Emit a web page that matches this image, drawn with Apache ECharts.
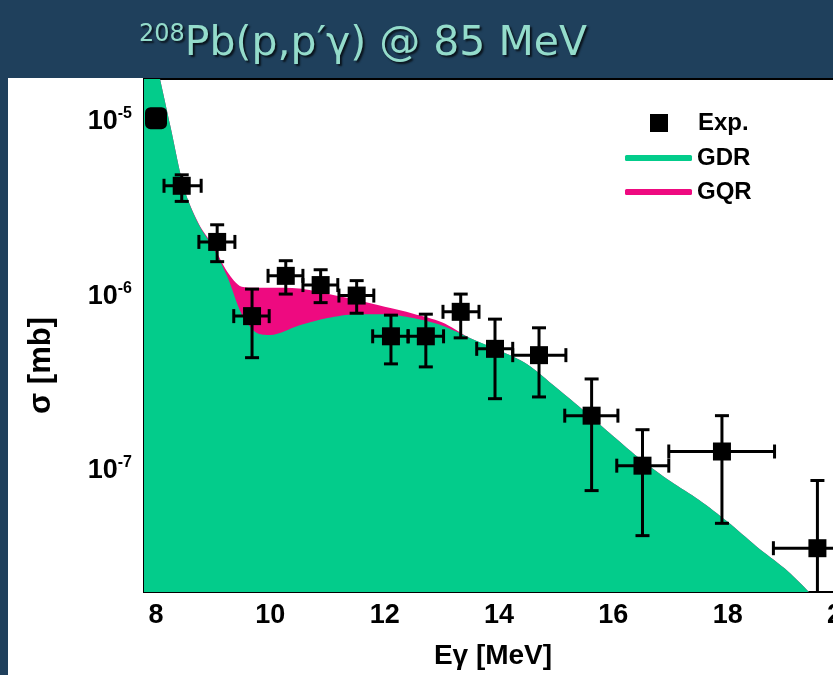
<!DOCTYPE html>
<html>
<head>
<meta charset="utf-8">
<title>208Pb(p,p'γ) @ 85 MeV</title>
<script src="https://cdn.jsdelivr.net/npm/echarts@6/dist/echarts.min.js"></script>
<style>
  html, body { margin: 0; padding: 0; background: #1f405c; }
  #chart { width: 833px; height: 675px; }
</style>
</head>
<body>
<div id="chart"></div>
<script>
// model curves (sigma in mb)
var energy = [7.7, 8.0, 8.25, 8.5, 8.75, 9.0, 9.25, 9.5, 9.75, 10.0, 10.5, 11.0, 11.5, 12.0, 12.5, 13.0, 13.5,
  14.0, 14.5, 15.0, 15.5, 16.0, 16.5, 17.0, 17.5, 18.0, 18.5, 19.0, 19.5, 20.0];
var gdr = [6.2e-5, 2.24e-5, 9.5e-6, 4.07e-6, 2.57e-6, 1.9e-6, 1.29e-6, 7.9e-7, 6.2e-7, 6.0e-7, 6.8e-7, 7.5e-7,
  7.9e-7, 7.9e-7, 7.5e-7, 6.8e-7, 5.75e-7, 4.9e-7, 4.07e-7, 3.0e-7, 2.19e-7, 1.58e-7, 1.15e-7, 8.7e-8, 6.8e-8,
  5.1e-8, 3.7e-8, 2.75e-8, 1.9e-8, 1.26e-8];
// GQR contribution on top of GDR
var gqr = [0, 0, 0, 0, 3e-8, 5e-8, 9e-8, 3.45e-7, 5.0e-7, 5.2e-7, 4.3e-7, 2.85e-7, 1.65e-7, 8e-8, 4.5e-8, 3e-8, 0,
  0, 0, 0, 0, 0, 0, 0, 0, 0, 0, 0, 0, 0];

// experimental points with error bars
var expE = [8.0, 8.45, 9.07, 9.68, 10.27, 10.88, 11.51, 12.11, 12.72, 13.33, 13.93, 14.70, 15.62, 16.51, 17.90, 19.57];
var expSigma = [1.05e-5, 4.3e-6, 2.05e-6, 7.7e-7, 1.31e-6, 1.16e-6, 1.01e-6, 5.9e-7, 5.9e-7, 8.15e-7, 5.0e-7,
  4.6e-7, 2.07e-7, 1.07e-7, 1.29e-7, 3.6e-8];
var expELow = [8.0, 8.14, 8.75, 9.36, 9.96, 10.57, 11.20, 11.79, 12.41, 13.02, 13.61, 14.24, 15.15, 16.06, 16.97, 18.80];
var expEHigh = [8.0, 8.79, 9.38, 9.98, 10.57, 11.18, 11.81, 12.41, 13.03, 13.65, 14.24, 15.17, 16.08, 16.97, 18.82, 20.34];
var expSigmaLow = [1.05e-5, 3.5e-6, 1.58e-6, 4.45e-7, 1.03e-6, 9.2e-7, 8.0e-7, 4.1e-7, 3.94e-7, 5.78e-7, 2.59e-7,
  2.65e-7, 7.7e-8, 4.25e-8, 5.0e-8, 1.0e-8];
var expSigmaHigh = [1.05e-5, 4.97e-6, 2.57e-6, 1.10e-6, 1.60e-6, 1.42e-6, 1.23e-6, 7.8e-7, 7.9e-7, 1.03e-6, 7.4e-7,
  6.6e-7, 3.36e-7, 1.72e-7, 2.07e-7, 8.8e-8];

// ticks
var xMajor = [8, 10, 12, 14, 16, 18, 20];
var xMinor = [9, 11, 13, 15, 17, 19];
var yMajor = [1e-7, 1e-6, 1e-5];
var yMinor = [3e-8, 4e-8, 5e-8, 6e-8, 7e-8, 8e-8, 9e-8,
  2e-7, 3e-7, 4e-7, 5e-7, 6e-7, 7e-7, 8e-7, 9e-7,
  2e-6, 3e-6, 4e-6, 5e-6, 6e-6, 7e-6, 8e-6, 9e-6];

var GREEN = '#03cc8b';
var PINK = '#ee0a80';
var TITLE = '#94dccb';
var FONT = '"Liberation Sans", Arial, sans-serif';

var chart = echarts.init(document.getElementById('chart'));

// pink band is drawn as GDR+GQR, the green GDR area covers it from below
var gdrData = energy.map(function (e, i) { return [e, gdr[i]]; });
var totalData = energy.map(function (e, i) { return [e, gdr[i] + gqr[i]]; });

var expPoints = expE.map(function (e, i) {
  var item = { value: [e, expSigma[i]] };
  if (i === 0) {
    item.symbol = 'roundRect';
    item.symbolSize = 22;
  }
  return item;
});

var errData = expE.map(function (e, i) {
  return [e, expSigma[i], expELow[i], expEHigh[i], expSigmaLow[i], expSigmaHigh[i]];
});

// error bars with caps
function renderErr(params, api) {
  var cs = params.coordSys;
  var x = api.value(0), y = api.value(1);
  var c = api.coord([x, y]);
  var l = api.coord([api.value(2), y]);
  var r = api.coord([api.value(3), y]);
  var lo = api.coord([x, api.value(4)]);
  var hi = api.coord([x, api.value(5)]);
  var cap = 7;
  var style = { stroke: '#000', lineWidth: 3, fill: null };
  var kids = [];
  function seg(x1, y1, x2, y2) {
    kids.push({ type: 'line', shape: { x1: x1, y1: y1, x2: x2, y2: y2 }, style: style });
  }
  if (r[0] - l[0] > 1) {
    seg(l[0], c[1], r[0], c[1]);
    seg(l[0], c[1] - cap, l[0], c[1] + cap);
    seg(r[0], c[1] - cap, r[0], c[1] + cap);
  }
  if (lo[1] - hi[1] > 1) {
    seg(c[0], hi[1], c[0], lo[1]);
    seg(c[0] - cap, hi[1], c[0] + cap, hi[1]);
    seg(c[0] - cap, lo[1], c[0] + cap, lo[1]);
  }
  return {
    type: 'group',
    children: kids,
    clipPath: { type: 'rect', shape: { x: cs.x, y: cs.y, width: cs.width, height: cs.height } }
  };
}

var yAxisBase = {
  type: 'log',
  logBase: 10,
  min: 2.02e-8,
  max: 1.76e-5,
  position: 'left',
  splitLine: { show: false },
  minorTick: { show: false }
};

var titleShadow = {
  textShadowColor: 'rgba(0,0,0,0.7)',
  textShadowOffsetX: 2,
  textShadowOffsetY: 2,
  textShadowBlur: 2
};

var option = {
  backgroundColor: '#1f405c',
  animation: false,
  title: {
    text: '{sup|208}{main|Pb(p,p′γ) @ 85 MeV}',
    left: 134,
    top: 18,
    textStyle: Object.assign({
      color: TITLE,
      fontWeight: 'normal',
      rich: {
        sup: Object.assign({ fontSize: 24, color: TITLE, fontWeight: 'normal', fontFamily: '"DejaVu Sans"',
          padding: [0, 0, 18, 0] }, titleShadow),
        main: Object.assign({ fontSize: 41, color: TITLE, fontWeight: 'normal', fontFamily: '"DejaVu Sans"' },
          titleShadow)
      }
    }, titleShadow)
  },
  graphic: [{
    type: 'rect',
    left: 8,
    top: 78,
    z: -10,
    shape: { width: 825, height: 597 },
    style: { fill: '#ffffff' }
  }],
  grid: {
    left: 144,
    top: 79,
    width: 698,
    height: 513,
    outerBoundsMode: 'none',
    show: true,
    backgroundColor: '#ffffff',
    borderColor: '#000',
    borderWidth: 2
  },
  legend: [{
    data: ['Exp.'],
    left: 650,
    top: 111,
    padding: 0,
    icon: 'rect',
    itemWidth: 18,
    itemHeight: 18,
    selectedMode: false,
    itemStyle: { color: '#000', opacity: 1 },
    textStyle: { fontFamily: FONT, fontWeight: 'bold', fontSize: 24, color: '#000', padding: [0, 0, 0, 25] }
  }, {
    data: ['GDR', 'GQR'],
    orient: 'vertical',
    left: 625,
    top: 144,
    padding: 0,
    itemGap: 6,
    icon: 'roundRect',
    itemWidth: 67,
    itemHeight: 6,
    selectedMode: false,
    textStyle: { fontFamily: FONT, fontWeight: 'bold', fontSize: 24, color: '#000', lineHeight: 28 }
  }],
  xAxis: [{
    type: 'value',
    min: 7.79,
    max: 20,
    position: 'bottom',
    name: 'Eγ [MeV]',
    nameLocation: 'middle',
    nameGap: 50,
    nameTextStyle: { fontFamily: FONT, fontWeight: 'bold', fontSize: 28, color: '#000' },
    axisLine: { lineStyle: { color: '#000', width: 2 } },
    axisTick: { inside: true, length: 10, lineStyle: { color: '#000', width: 2 }, customValues: xMajor },
    axisLabel: { customValues: xMajor, margin: 10, fontFamily: FONT, fontWeight: 'bold', fontSize: 27, color: '#000' },
    splitLine: { show: false }
  }, {
    type: 'value',
    min: 7.79,
    max: 20,
    position: 'bottom',
    axisLine: { show: false },
    axisTick: { inside: true, length: 6, lineStyle: { color: '#000', width: 2 }, customValues: xMinor },
    axisLabel: { show: false },
    splitLine: { show: false }
  }],
  yAxis: [Object.assign({}, yAxisBase, {
    name: 'σ [mb]',
    nameLocation: 'middle',
    nameRotate: 90,
    nameGap: 87,
    nameTextStyle: { fontFamily: FONT, fontWeight: 'bold', fontSize: 31, color: '#000', padding: [0, 60, 0, 0] },
    axisLine: { show: true, lineStyle: { color: '#000', width: 2 } },
    axisTick: { inside: true, length: 11, lineStyle: { color: '#000', width: 2 }, customValues: yMajor },
    axisLabel: {
      customValues: yMajor,
      margin: 12,
      color: '#000',
      formatter: function (v) {
        return '{b|10}{s|' + Math.round(Math.log10(v)) + '}';
      },
      rich: {
        b: { fontFamily: FONT, fontWeight: 'bold', fontSize: 27, color: '#000' },
        s: { fontFamily: FONT, fontWeight: 'bold', fontSize: 16, color: '#000', padding: [0, 0, 16, 0] }
      }
    }
  }), Object.assign({}, yAxisBase, {
    axisLine: { show: false },
    axisTick: { inside: true, length: 7, lineStyle: { color: '#000', width: 2 }, customValues: yMinor },
    axisLabel: { show: false }
  })],
  series: [{
    name: 'GQR',
    type: 'line',
    data: totalData,
    smooth: 0.3,
    showSymbol: false,
    color: PINK,
    itemStyle: { color: PINK },
    lineStyle: { width: 0 },
    areaStyle: { color: PINK, opacity: 1 },
    z: 1
  }, {
    name: 'GDR',
    type: 'line',
    data: gdrData,
    smooth: 0.3,
    showSymbol: false,
    color: GREEN,
    itemStyle: { color: GREEN },
    lineStyle: { width: 0 },
    areaStyle: { color: GREEN, opacity: 1 },
    z: 2
  }, {
    name: 'Exp. errors',
    type: 'custom',
    data: errData,
    renderItem: renderErr,
    z: 3
  }, {
    name: 'Exp.',
    type: 'scatter',
    data: expPoints,
    symbol: 'rect',
    symbolSize: 18,
    itemStyle: { color: '#000', opacity: 1 },
    z: 4
  }]
};

chart.setOption(option);
</script>
</body>
</html>
